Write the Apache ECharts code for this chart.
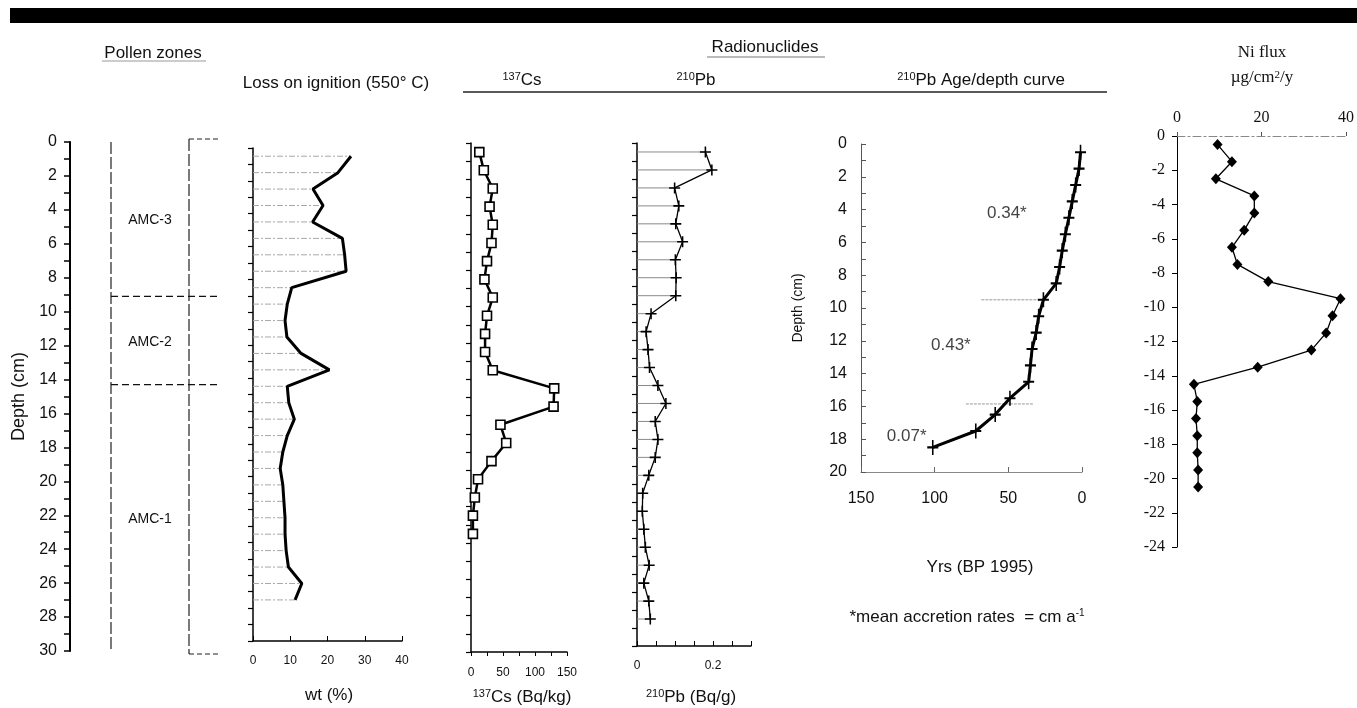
<!DOCTYPE html>
<html>
<head>
<meta charset="utf-8">
<script src="https://cdn.jsdelivr.net/npm/echarts@6/dist/echarts.min.js"></script>
<style>
  html, body { margin: 0; padding: 0; background: #fff; }
  #chart { width: 1357px; height: 708px; }
</style>
</head>
<body>
<div id="chart"></div>
<script>
// ---- data ----
var zoneBounds = [9.1, 14.3];
var zoneNames = ["AMC-3", "AMC-2", "AMC-1"];
var zoneLabelDepth = [4.6, 11.8, 22.2];

var loiDepth = [0.5, 1.5, 2.5, 3.5, 4.5, 5.5, 6.5, 7.5, 8.5, 9.5, 10.5, 11.5, 12.5, 13.5,
                14.5, 15.5, 16.5, 17.5, 18.5, 19.5, 20.5, 21.5, 22.5, 23.5, 24.5, 25.5, 26.5, 27.5];
var loiWt = [26.3, 22.8, 16.1, 18.8, 16.0, 24.0, 24.6, 25.0, 10.4, 9.2, 8.6, 9.1, 12.9, 20.5,
             9.2, 9.6, 11.1, 9.2, 8.0, 7.3, 8.0, 8.3, 8.6, 8.6, 8.9, 9.5, 13.1, 11.3];

var csDepth = [0.5, 1.5, 2.5, 3.5, 4.5, 5.5, 6.5, 7.5, 8.5, 9.5, 10.5, 11.5, 12.5,
               13.5, 14.5, 15.5, 16.5, 17.5, 18.5, 19.5, 20.5, 21.5];
var csAct = [13, 20, 34, 29, 34, 32, 25, 21, 34, 25, 22, 22, 34,
             130, 129, 46, 55, 32, 11, 6, 3, 3];

var pbDepth = [0.5, 1.5, 2.5, 3.5, 4.5, 5.5, 6.5, 7.5, 8.5, 9.5, 10.5, 11.5, 12.5, 13.5,
               14.5, 15.5, 16.5, 17.5, 18.5, 19.5, 20.5, 21.5, 22.5, 23.5, 24.5, 25.5, 26.5];
var pbAct = [0.180, 0.197, 0.099, 0.110, 0.102, 0.120, 0.101, 0.103, 0.102, 0.037, 0.024, 0.029, 0.033, 0.055,
             0.076, 0.048, 0.055, 0.048, 0.031, 0.015, 0.014, 0.018, 0.022, 0.032, 0.018, 0.031, 0.035];

var ageDepth = [0.5, 1.5, 2.5, 3.5, 4.5, 5.5, 6.5, 7.5, 8.5, 9.5, 10.5, 11.5, 12.5, 13.5,
                14.5, 15.5, 16.5, 17.5, 18.5];
var ageYrs = [1.0, 2.0, 4.3, 6.6, 8.9, 11.3, 13.4, 15.2, 17.5, 26.2, 29.4, 31.1, 33.9, 35.0,
              36.2, 48.9, 58.9, 72.1, 101.3];
// dotted reference lines: depth, from age, to age
var ageRefDepth = [9.5, 15.85];
var ageRefFrom = [68.3, 78.8];
var ageRefTo = [26.2, 33.0];
var rateText = ["0.34*", "0.43*", "0.07*"];
var rateAge = [51, 89, 119];
var rateDepth = [4.2, 12.3, 17.8];

var niDepth = [-0.5, -1.5, -2.5, -3.5, -4.5, -5.5, -6.5, -7.5, -8.5, -9.5, -10.5,
               -11.5, -12.5, -13.5, -14.5, -15.5, -16.5, -17.5, -18.5, -19.5, -20.5];
var niFlux = [9.6, 13.0, 9.2, 18.3, 18.3, 15.9, 13.0, 14.3, 21.6, 38.7, 36.8,
              35.3, 31.8, 19.1, 4.0, 4.8, 4.5, 4.8, 4.8, 5.0, 5.0];

// ---- styling ----
var SANS = "'Liberation Sans', Arial, sans-serif";
var SERIF = "'Liberation Serif', 'Times New Roman', serif";
var INK = "#111";
var PLUS = "path://M-1,-7H1V-1H7V1H1V7H-1V1H-7V-1H-1Z";

function pairs(xs, ys) {
  return xs.map(function (x, i) { return [x, ys[i]]; });
}

function depthAxis(grid, max, opts) {
  var a = {
    gridIndex: grid, type: "value", min: 0, max: max, interval: 1, inverse: true,
    axisLine: { show: true, onZero: false, lineStyle: { color: "#000", width: 1.5 } },
    axisTick: { show: true, length: 5, lineStyle: { color: "#000", width: 1.2 } },
    axisLabel: { show: false },
    splitLine: { show: false }
  };
  return Object.assign(a, opts || {});
}

// grey line from the axis to each sample
function stemSeries(xi, data, dash, stroke) {
  return {
    type: "custom", xAxisIndex: xi, yAxisIndex: xi, data: data, encode: { x: 0, y: 1 },
    silent: true, z: 1,
    renderItem: function (params, api) {
      var p0 = api.coord([0, api.value(1)]);
      var p1 = api.coord([api.value(0), api.value(1)]);
      return {
        type: "line",
        shape: { x1: p0[0], y1: p0[1], x2: p1[0], y2: p1[1] },
        style: { stroke: stroke, lineWidth: 1, lineDash: dash }
      };
    }
  };
}

function supText(x, y, sup, main, size, font) {
  return {
    type: "text", x: x, y: y,
    style: {
      text: "{s|" + sup + "}{n|" + main + "}",
      align: "center", verticalAlign: "middle",
      rich: {
        s: { fontSize: Math.round(size * 0.62), fontFamily: font, fill: INK, verticalAlign: "top" },
        n: { fontSize: size, fontFamily: font, fill: INK }
      }
    }
  };
}

function label(x, y, text, size, font) {
  return {
    type: "text", x: x, y: y,
    style: { text: text, fontSize: size, fontFamily: font || SANS, fill: INK, align: "center", verticalAlign: "middle" }
  };
}

function seg(x1, y1, x2, y2, stroke, w, dash) {
  return {
    type: "line", shape: { x1: x1, y1: y1, x2: x2, y2: y2 },
    style: { stroke: stroke, lineWidth: w, lineDash: dash || null }
  };
}

var chart = echarts.init(document.getElementById("chart"), null, { renderer: "canvas" });

var option = {
  animation: false,
  backgroundColor: "#fff",
  textStyle: { fontFamily: SANS, color: INK },
  grid: [
    { left: 70, top: 142, width: 150, height: 509 },
    { left: 253, top: 148, width: 149, height: 493 },
    { left: 471, top: 143, width: 96, height: 509 },
    { left: 637, top: 143, width: 114, height: 503 },
    { left: 861, top: 144, width: 221, height: 328 },
    { left: 1177, top: 136, width: 169, height: 411 }
  ],
  xAxis: [
    { gridIndex: 0, type: "value", min: 0, max: 150, show: false },
    {
      gridIndex: 1, type: "value", min: 0, max: 40, interval: 10,
      axisLine: { onZero: false, lineStyle: { color: "#000", width: 1.5 } },
      axisTick: { inside: true, length: 5, lineStyle: { color: "#000" } },
      axisLabel: { fontSize: 12, margin: 14, color: INK, fontFamily: SANS },
      splitLine: { show: false }
    },
    {
      gridIndex: 2, type: "value", min: 0, max: 150, interval: 25,
      axisLine: { onZero: false, lineStyle: { color: "#000", width: 1.5 } },
      axisTick: { length: 4, lineStyle: { color: "#000" } },
      axisLabel: {
        fontSize: 12, margin: 15, color: INK, fontFamily: SANS,
        formatter: function (v) { return v % 50 === 0 ? String(v) : ""; }
      },
      splitLine: { show: false }
    },
    {
      gridIndex: 3, type: "value", min: 0, max: 0.3, interval: 0.05,
      axisLine: { onZero: false, lineStyle: { color: "#000", width: 1.5 } },
      axisTick: { inside: true, length: 5, lineStyle: { color: "#000" } },
      axisLabel: {
        fontSize: 12, margin: 14, color: INK, fontFamily: SANS,
        formatter: function (v) {
          if (Math.abs(v) < 1e-6) return "0";
          if (Math.abs(v - 0.2) < 1e-6) return "0.2";
          return "";
        }
      },
      splitLine: { show: false }
    },
    {
      gridIndex: 4, type: "value", min: 0, max: 150, interval: 50, inverse: true,
      axisLine: { onZero: false, lineStyle: { color: "#888", width: 1 } },
      axisTick: { inside: true, length: 5, lineStyle: { color: "#666" } },
      axisLabel: { fontSize: 16, margin: 19, color: INK, fontFamily: SANS },
      splitLine: { show: false }
    },
    {
      gridIndex: 5, type: "value", position: "top", min: 0, max: 40, interval: 20,
      axisLine: { onZero: false, lineStyle: { color: "#888", width: 1, type: [8, 3, 2, 3] } },
      axisTick: { length: 4, lineStyle: { color: "#555" } },
      axisLabel: { fontSize: 16, margin: 10, color: INK, fontFamily: SERIF },
      splitLine: { show: false }
    }
  ],
  yAxis: [
    depthAxis(0, 30, {
      axisLine: { show: true, onZero: false, lineStyle: { color: "#000", width: 2 } },
      axisTick: { show: true, length: 6, lineStyle: { color: "#000", width: 1.5 } },
      axisLabel: {
        show: true, fontSize: 16, margin: 13, color: INK, fontFamily: SANS,
        formatter: function (v) { return v % 2 === 0 ? String(v) : ""; }
      },
      name: "Depth (cm)", nameLocation: "middle", nameRotate: 90, nameGap: 42,
      nameTextStyle: { fontSize: 18, fontFamily: SANS, color: INK }
    }),
    depthAxis(1, 30),
    depthAxis(2, 28),
    depthAxis(3, 28),
    depthAxis(4, 20, {
      axisLine: { show: true, onZero: false, lineStyle: { color: "#555", width: 1 } },
      axisTick: { show: true, inside: true, length: 5, lineStyle: { color: "#555" } },
      axisLabel: {
        show: true, fontSize: 16, margin: 14, color: INK, fontFamily: SANS,
        formatter: function (v) { return v % 2 === 0 ? String(v) : ""; }
      },
      name: "Depth (cm)", nameLocation: "middle", nameRotate: 90, nameGap: 56,
      nameTextStyle: { fontSize: 14, fontFamily: SANS, color: INK }
    }),
    {
      gridIndex: 5, type: "value", min: -24, max: 0, interval: 2,
      axisLine: { show: true, onZero: false, lineStyle: { color: "#000", width: 1 } },
      axisTick: { show: true, length: 5, lineStyle: { color: "#000" } },
      axisLabel: { fontSize: 16, margin: 12, color: INK, fontFamily: SERIF },
      splitLine: { show: false }
    }
  ],
  series: [
    // pollen zone boundaries
    {
      type: "custom", xAxisIndex: 0, yAxisIndex: 0, silent: true,
      data: zoneBounds.map(function (d) { return [0, d]; }), encode: { x: 0, y: 1 },
      renderItem: function (params, api) {
        var cs = params.coordSys;
        var y = api.coord([0, api.value(1)])[1];
        return {
          type: "line",
          shape: { x1: cs.x + 41, y1: y, x2: cs.x + 150, y2: y },
          style: { stroke: "#111", lineWidth: 1.2, lineDash: [7, 4] }
        };
      }
    },
    {
      type: "custom", xAxisIndex: 0, yAxisIndex: 0, silent: true,
      data: zoneLabelDepth.map(function (d) { return [0, d]; }),
      encode: { x: 0, y: 1 },
      renderItem: function (params, api) {
        var cs = params.coordSys;
        var y = api.coord([0, api.value(1)])[1];
        return {
          type: "text", x: cs.x + 80, y: y,
          style: {
            text: zoneNames[params.dataIndex], fontSize: 14, fontFamily: SANS,
            fill: INK, align: "center", verticalAlign: "middle"
          }
        };
      }
    },
    // loss on ignition
    stemSeries(1, pairs(loiWt, loiDepth), [6, 2, 2, 2], "#a8a8a8"),
    {
      type: "line", xAxisIndex: 1, yAxisIndex: 1, data: pairs(loiWt, loiDepth),
      showSymbol: false, z: 3,
      lineStyle: { color: "#000", width: 3 }
    },
    // 137Cs
    {
      type: "line", xAxisIndex: 2, yAxisIndex: 2, data: pairs(csAct, csDepth), z: 3,
      symbol: "rect", symbolSize: 9,
      itemStyle: { color: "#fff", borderColor: "#000", borderWidth: 1.6 },
      lineStyle: { color: "#000", width: 2.5 }
    },
    // 210Pb
    stemSeries(3, pairs(pbAct, pbDepth), null, "#8a8a8a"),
    {
      type: "line", xAxisIndex: 3, yAxisIndex: 3, data: pairs(pbAct, pbDepth), z: 3,
      symbol: PLUS, symbolSize: 11,
      itemStyle: { color: "#000" },
      lineStyle: { color: "#000", width: 1.3 }
    },
    // age / depth
    {
      type: "custom", xAxisIndex: 4, yAxisIndex: 4, silent: true,
      data: ageRefDepth.map(function (d, i) { return [ageRefFrom[i], d, ageRefTo[i]]; }),
      encode: { x: 0, y: 1 },
      renderItem: function (params, api) {
        var p0 = api.coord([api.value(0), api.value(1)]);
        var p1 = api.coord([api.value(2), api.value(1)]);
        return {
          type: "line",
          shape: { x1: p0[0], y1: p0[1], x2: p1[0], y2: p1[1] },
          style: { stroke: "#9a9a9a", lineWidth: 1, lineDash: [3, 1] }
        };
      }
    },
    {
      type: "line", xAxisIndex: 4, yAxisIndex: 4, data: pairs(ageYrs, ageDepth), z: 3,
      symbol: PLUS, symbolSize: [11, 15], symbolKeepAspect: false,
      itemStyle: { color: "#000" },
      lineStyle: { color: "#000", width: 3 }
    },
    {
      type: "scatter", xAxisIndex: 4, yAxisIndex: 4, symbolSize: 0, silent: true,
      data: rateAge.map(function (a, i) { return { value: [a, rateDepth[i]], name: rateText[i] }; }),
      label: {
        show: true, position: "inside", formatter: "{b}",
        fontSize: 17, fontFamily: SANS, color: INK
      }
    },
    // Ni flux
    {
      type: "line", xAxisIndex: 5, yAxisIndex: 5, data: pairs(niFlux, niDepth), z: 3,
      symbol: "diamond", symbolSize: [10, 11],
      itemStyle: { color: "#000" },
      lineStyle: { color: "#000", width: 1.3 }
    }
  ],
  graphic: [
    { type: "rect", shape: { x: 10, y: 8, width: 1347, height: 15 }, style: { fill: "#000" } },

    label(153, 53, "Pollen zones", 17),
    seg(102, 61, 206, 61, "#999", 1),
    seg(111, 142, 111, 651, "#222", 1.2, [12, 3]),
    seg(189, 139, 189, 654, "#222", 1.2, [12, 3]),
    seg(189, 139, 220, 139, "#222", 1.2, [5, 3]),
    seg(189, 654, 220, 654, "#222", 1.2, [5, 3]),

    label(336, 83, "Loss on ignition (550\u00b0 C)", 17),
    label(329, 695, "wt (%)", 17),

    label(765, 47, "Radionuclides", 17),
    seg(707, 57, 825, 57, "#777", 1),
    supText(522, 80, "137", "Cs", 17, SANS),
    supText(696, 80, "210", "Pb", 17, SANS),
    supText(981, 80, "210", "Pb Age/depth curve", 17, SANS),
    seg(463, 92, 1107, 92, "#222", 1.5),

    supText(522, 697, "137", "Cs (Bq/kg)", 17, SANS),
    supText(691, 697, "210", "Pb (Bq/g)", 17, SANS),

    label(980, 567, "Yrs (BP 1995)", 17),
    {
      type: "text", x: 967, y: 617,
      style: {
        text: "{n|*mean accretion rates  = cm a}{s|-1}",
        align: "center", verticalAlign: "middle",
        rich: {
          n: { fontSize: 17, fontFamily: SANS, fill: INK },
          s: { fontSize: 10, fontFamily: SANS, fill: INK, verticalAlign: "top" }
        }
      }
    },

    label(1262, 53, "Ni flux", 17, SERIF),
    {
      type: "text", x: 1262, y: 78,
      style: {
        text: "{n|\u00b5g/cm}{s|2}{n|/y}",
        align: "center", verticalAlign: "middle",
        rich: {
          n: { fontSize: 17, fontFamily: SERIF, fill: INK },
          s: { fontSize: 11, fontFamily: SERIF, fill: INK, verticalAlign: "top" }
        }
      }
    }
  ]
};

chart.setOption(option);
</script>
</body>
</html>
